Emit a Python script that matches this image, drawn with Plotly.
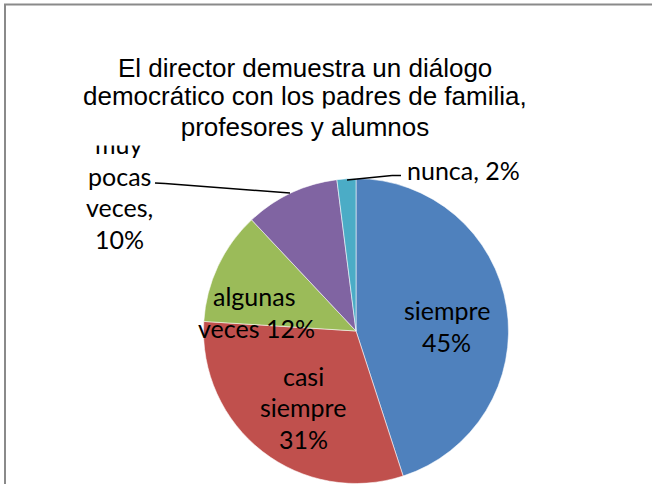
import plotly.graph_objects as go

categories = ["siempre", "casi siempre", "algunas veces", "muy pocas veces", "nunca"]
values = [45, 31, 12, 10, 2]
colors = ["#4F81BD", "#C0504D", "#9BBB59", "#8064A2", "#4BACC6"]
title_lines = ["El director demuestra un diálogo",
               "democrático con los padres de familia,",
               "profesores y alumnos"]

W, H = 652, 484
def px(x): return x / W
def py(y): return 1 - y / H

fig = go.Figure(go.Pie(
    labels=categories, values=values, sort=False, direction="clockwise", rotation=0,
    marker=dict(colors=colors, line=dict(color="rgba(255,255,255,0.55)", width=1)),
    textinfo="none", hoverinfo="label+percent", showlegend=False,
    domain=dict(x=[px(203.5), px(508.5)], y=[py(483.5), py(178.5)]),
))

lab_font = dict(family="Lato, Carlito, Calibri, sans-serif", size=25, color="#000000")
tit_font = dict(family="Liberation Sans, Arial, sans-serif", size=26, color="#000000")

def txt(t, x, y, font=lab_font, **kw):
    return dict(text=t, x=px(x), y=py(y), xref="paper", yref="paper",
                xanchor="center", yanchor="middle", showarrow=False, font=font, **kw)

anns = []
pct = [f"{round(v / sum(values) * 100)}%" for v in values]
anns += [txt("siempre", 447, 310), txt(pct[0], 446, 342)]
anns += [txt("casi", 303, 376), txt("siempre", 303, 407), txt(pct[1], 303, 439)]
anns += [txt("algunas", 254, 296), txt("veces " + pct[2], 256, 328)]
anns += [txt("muy", 119, 144), txt("pocas", 119, 176), txt("veces,", 119, 207), txt(pct[3], 119, 239)]
anns += [dict(text="nunca, " + pct[4], x=px(405), y=py(170), xref="paper", yref="paper",
              xanchor="left", yanchor="middle", showarrow=False, font=lab_font)]
# title (drawn last; its white box hides the top of the "muy" label)
anns += [txt(title_lines[0], 305, 68, font=tit_font)]
anns += [txt(title_lines[1], 305, 96, font=tit_font)]
anns += [txt(title_lines[2], 305, 127, font=tit_font, bgcolor="white", width=460, height=34)]

shapes = [
    dict(type="line", xref="paper", yref="paper", x0=px(4), x1=px(W + 5), y0=py(4.5), y1=py(4.5),
         line=dict(color="#8a8a8a", width=2)),
    dict(type="line", xref="paper", yref="paper", x0=px(5), x1=px(5), y0=py(4), y1=py(H + 5),
         line=dict(color="#8a8a8a", width=2)),
    dict(type="line", xref="paper", yref="paper", x0=px(155), x1=px(165), y0=py(183), y1=py(183.5),
         line=dict(color="#000000", width=1.5)),
    dict(type="line", xref="paper", yref="paper", x0=px(165), x1=px(290), y0=py(183.5), y1=py(193),
         line=dict(color="#000000", width=1.5)),
    dict(type="line", xref="paper", yref="paper", x0=px(347), x1=px(392), y0=py(180), y1=py(175.5),
         line=dict(color="#000000", width=1.5)),
    dict(type="line", xref="paper", yref="paper", x0=px(392), x1=px(401), y0=py(175.5), y1=py(175.5),
         line=dict(color="#000000", width=1.5)),
]

fig.update_layout(width=W, height=H, margin=dict(l=0, r=0, t=0, b=0),
                  paper_bgcolor="white", plot_bgcolor="white",
                  annotations=anns, shapes=shapes)
fig.write_html("out.html", config={"displayModeBar": False},
               post_script="document.body.style.margin='0';document.body.style.overflow='hidden';")
